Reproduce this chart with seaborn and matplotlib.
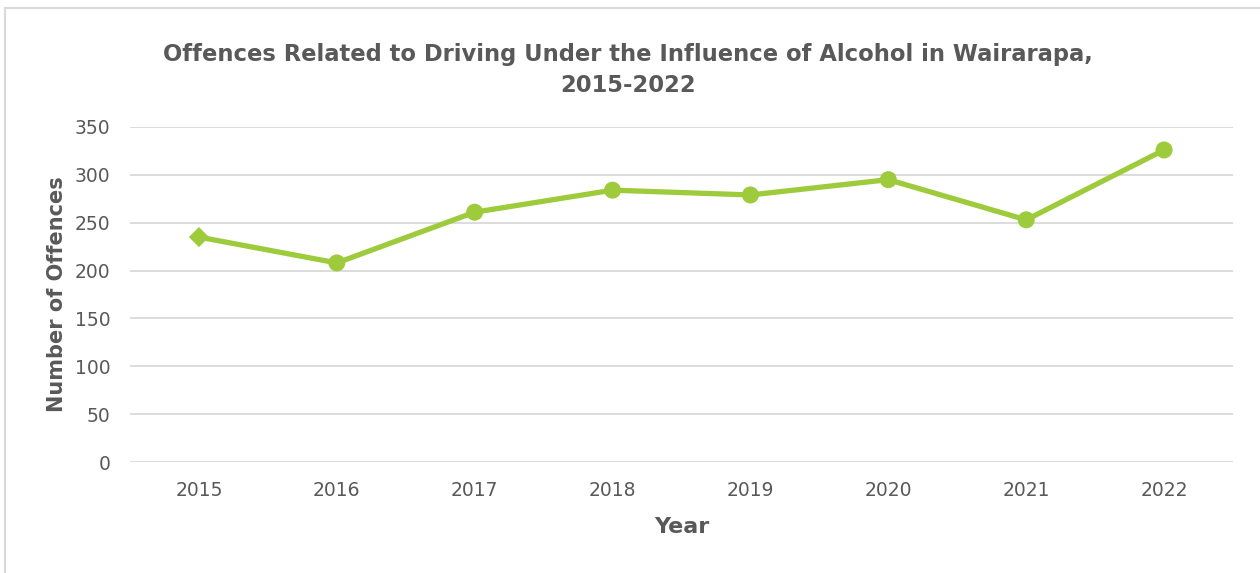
import matplotlib
matplotlib.use("Agg")
import matplotlib.pyplot as plt
import seaborn as sns
import pandas as pd
from matplotlib.patches import Rectangle

years = ["2015", "2016", "2017", "2018", "2019", "2020", "2021", "2022"]
offences = [235, 208, 261, 284, 279, 295, 253, 326]
point_shape = ["diamond", "circle", "circle", "circle", "circle", "circle", "circle", "circle"]
y_ticks = [0, 50, 100, 150, 200, 250, 300, 350]

sns.set_theme(style="white")
plt.rcParams["font.family"] = ["DejaVu Sans"]

GREEN = "#9DCB3B"
TEXT = "#595959"
GRID = "#D9D9D9"

df = pd.DataFrame({"year": years, "offences": offences, "shape": point_shape})
df["pos"] = range(len(df))

fig = plt.figure(figsize=(12.6, 5.73), dpi=100)
ax = fig.add_axes([130 / 1260, 1 - 462 / 573, (1233 - 130) / 1260, (462 - 127) / 573])

sns.lineplot(data=df, x="pos", y="offences", color=GREEN, linewidth=3.8, ax=ax,
             zorder=3, legend=False)
sns.scatterplot(data=df, x="pos", y="offences", style="shape", size="shape",
                markers={"diamond": "D", "circle": "o"},
                sizes={"diamond": 105, "circle": 150},
                color=GREEN, linewidth=0, ax=ax, zorder=4, legend=False)

ax.set_xlim(-0.5, len(years) - 0.5)
ax.set_ylim(0, 350)
ax.set_xticks(range(len(years)))
ax.set_xticklabels(years)
ax.set_yticks(y_ticks)
ax.yaxis.grid(True, color=GRID, linewidth=1.3)
ax.xaxis.grid(False)
ax.set_axisbelow(True)
for sp in ax.spines.values():
    sp.set_visible(False)
ax.tick_params(axis="both", length=0, labelsize=13.5, labelcolor=TEXT)
ax.tick_params(axis="y", pad=14)
ax.tick_params(axis="x", pad=14)

ax.set_xlabel("Year", fontsize=16, fontweight="bold", color=TEXT)
ax.set_ylabel("Number of Offences", fontsize=15, fontweight="bold", color=TEXT)
ax.xaxis.set_label_coords(0.5, (462 - 527) / 335, transform=ax.transAxes)
ax.xaxis.label.set_va("center")
ax.yaxis.set_label_coords((57 - 130) / 1103, 0.5, transform=ax.transAxes)
ax.yaxis.label.set_va("center")

fig.text(628 / 1260, 1 - 70 / 573,
         "Offences Related to Driving Under the Influence of Alcohol in Wairarapa,\n2015-2022",
         ha="center", va="center", fontsize=16.3, fontweight="bold", color=TEXT,
         linespacing=1.5)

# chart frame
fig.patches.append(Rectangle((5 / 1260, -0.01), 1.02, 1 - 8 / 573 + 0.01,
                             transform=fig.transFigure, fill=False,
                             edgecolor="#D9D9D9", linewidth=1.5))

fig.savefig("out.png", dpi=100, facecolor="white")
